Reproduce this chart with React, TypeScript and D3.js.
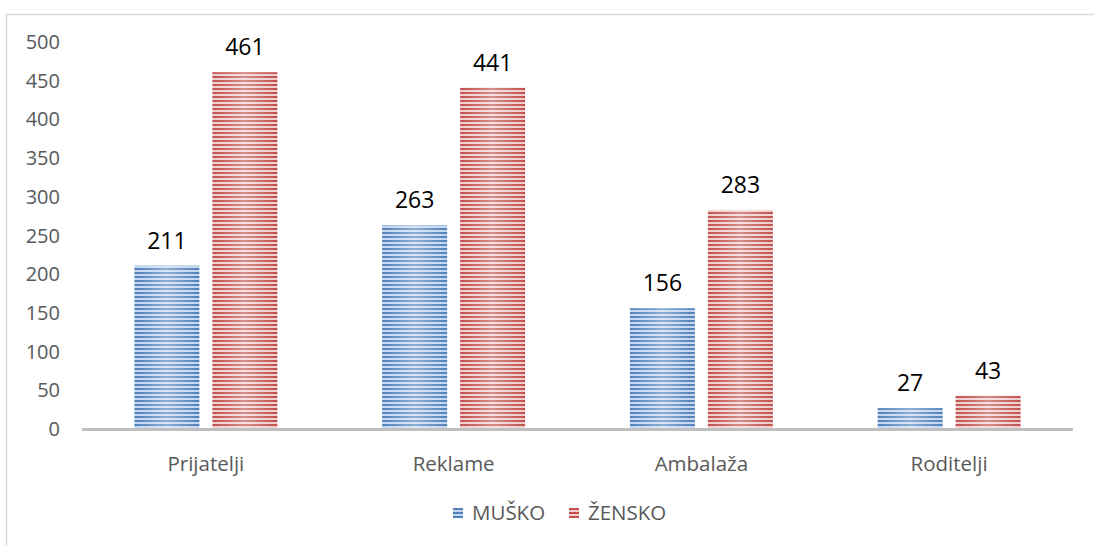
import React from "react";
import * as d3 from "d3";

const categories = ["Prijatelji", "Reklame", "Ambalaža", "Roditelji"];
const seriesNames = ["MUŠKO", "ŽENSKO"];
const musko = [211, 263, 156, 27];
const zensko = [461, 441, 283, 43];
const yTicks = [0, 50, 100, 150, 200, 250, 300, 350, 400, 450, 500];

const W = 1094;
const H = 545;
const plotLeft = 82;
const plotRight = 1073;
const plotTop = 42;
const plotBottom = 429;
const FONT = "'Open Sans', 'Liberation Sans', sans-serif";

const colors = [
  { dark: "#4f81bd", light: "#c5d6ee", id: "pBlue" },
  { dark: "#c0504d", light: "#f0cfce", id: "pRed" },
];

export default function App() {
  const x0 = d3.scaleBand<string>().domain(categories).range([plotLeft, plotRight]).paddingInner(0.423).paddingOuter(0.2115);
  const x1 = d3.scaleBand<string>().domain(seriesNames).range([0, x0.bandwidth()]).paddingInner(13 / 78).paddingOuter(0);
  const y = d3.scaleLinear().domain([0, 500]).range([plotBottom, plotTop]);
  const series = [musko, zensko];

  return (
    <svg width={W} height={H} style={{ position: "absolute", left: 0, top: 0, background: "#fff" }}>
      <defs>
        {colors.map((c) => (
          <pattern key={c.id} id={c.id} patternUnits="userSpaceOnUse" width={8} height={4}>
            <rect x={0} y={0} width={8} height={4} fill={c.light} />
            <rect x={0} y={0} width={8} height={2} fill={c.dark} />
          </pattern>
        ))}
        <linearGradient id="shade" x1="0" x2="1" y1="0" y2="0">
          <stop offset="0" stopColor="#fff" stopOpacity={0} />
          <stop offset="0.5" stopColor="#fff" stopOpacity={0.35} />
          <stop offset="1" stopColor="#fff" stopOpacity={0} />
        </linearGradient>
      </defs>
      <rect x={6.5} y={14.5} width={1100} height={540} fill="#fff" stroke="#d9d9d9" strokeWidth={1.5} />

      {yTicks.map((t) => (
        <text key={t} x={60} y={y(t)} dy="0.35em" textAnchor="end" fontFamily={FONT} fontSize={20} fill="#595959">
          {t}
        </text>
      ))}

      {categories.map((cat, i) => (
        <g key={cat}>
          {series.map((vals, s) => {
            const bx = (x0(cat) as number) + (x1(seriesNames[s]) as number);
            const bw = x1.bandwidth();
            const by = y(vals[i]);
            const bh = plotBottom - by;
            return (
              <g key={s}>
                <rect x={bx} y={by} width={bw} height={bh} fill={`url(#${colors[s].id})`} />
                <rect x={bx} y={by} width={bw} height={bh} fill="url(#shade)" />
                <text x={bx + bw / 2} y={by - 17} textAnchor="middle" fontFamily={FONT} fontSize={23} fill="#000">
                  {vals[i]}
                </text>
              </g>
            );
          })}
          <text x={(x0(cat) as number) + x0.bandwidth() / 2} y={464} dy="0.35em" textAnchor="middle" fontFamily={FONT} fontSize={20.5} fill="#595959">
            {cat}
          </text>
        </g>
      ))}

      <line x1={plotLeft} x2={plotRight} y1={plotBottom + 0.5} y2={plotBottom + 0.5} stroke="#bfbfbf" strokeWidth={3} />

      {seriesNames.map((name, s) => {
        const lx = s === 0 ? 453 : 569;
        return (
          <g key={name}>
            <rect x={lx} y={508} width={10} height={10} fill={`url(#${colors[s].id})`} />
            <text x={lx + 19} y={513} dy="0.35em" fontFamily={FONT} fontSize={20.5} fill="#595959">
              {name}
            </text>
          </g>
        );
      })}
    </svg>
  );
}
